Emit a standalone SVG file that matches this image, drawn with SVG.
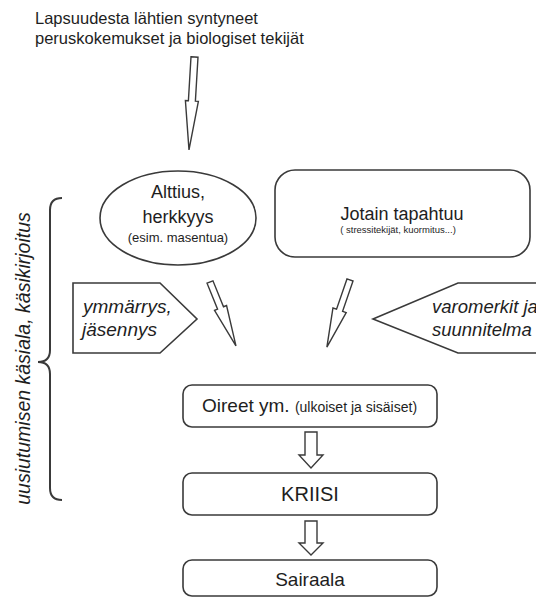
<svg xmlns="http://www.w3.org/2000/svg" width="536" height="598" viewBox="0 0 536 598">
<style>
.t{font-family:"Liberation Sans",Arial,sans-serif;fill:#1e1e1e}
.i{font-style:italic}
.box{fill:#fff;stroke:#3a3a3a;stroke-width:1.6}
.arr{fill:#fff;stroke:#3a3a3a;stroke-width:1.4;stroke-linejoin:miter}
.br{fill:none;stroke:#3a3a3a;stroke-width:2}
</style>
<rect width="536" height="598" fill="#fff"/>
<g id="title">
<text class="t" x="35" y="24" font-size="16.5">Lapsuudesta lähtien syntyneet</text>
<text class="t" x="35" y="44" font-size="16.5">peruskokemukset ja biologiset tekijät</text>
</g>
<g id="alttius">
<ellipse class="box" cx="178" cy="218" rx="78" ry="47"/>
<text class="t" x="178" y="198" font-size="18" text-anchor="middle">Alttius,</text>
<text class="t" x="178" y="223" font-size="18" text-anchor="middle">herkkyys</text>
<text class="t" x="178" y="242" font-size="13" text-anchor="middle">(esim. masentua)</text>
</g>
<g id="jotain">
<rect class="box" x="275" y="170" width="255" height="87" rx="20"/>
<text class="t" x="402" y="220" font-size="18" text-anchor="middle">Jotain tapahtuu</text>
<text class="t" x="398" y="233" font-size="9.5" text-anchor="middle">( stressitekijät, kuormitus...)</text>
</g>
<g id="brace">
<path class="br" d="M62,198 Q50,198 50,210 L50,350 Q50,362 38,362 Q50,362 50,374 L50,488 Q50,500 62,500"/>
<text class="t i" transform="translate(30,358.5) rotate(-90)" font-size="19.5" text-anchor="middle">uusiutumisen käsiala, käsikirjoitus</text>
</g>
<g id="ymmarrys">
<polygon class="box" points="73,283 160,283 197,319 160,353 73,353"/>
<text class="t i" x="83" y="313" font-size="19">ymmärrys,</text>
<text class="t i" x="82" y="336" font-size="19">jäsennys</text>
</g>
<g id="varomerkit">
<polygon class="box" points="373,319 458,283 545,283 545,353 458,353"/>
<text class="t i" x="432" y="313" font-size="18.5">varomerkit ja</text>
<text class="t i" x="432" y="336" font-size="18.5">suunnitelma</text>
</g>
<g id="oireet">
<rect class="box" x="183" y="385" width="254" height="42" rx="9"/>
<text class="t" x="202" y="412" font-size="19">Oireet ym. <tspan font-size="14">(ulkoiset ja sisäiset)</tspan></text>
</g>
<g id="kriisi">
<rect class="box" x="183" y="473" width="254" height="42" rx="9"/>
<text class="t" x="310" y="501" font-size="20" text-anchor="middle">KRIISI</text>
</g>
<g id="sairaala">
<rect class="box" x="183" y="560" width="254" height="36" rx="9"/>
<text class="t" x="310" y="586" font-size="19" text-anchor="middle">Sairaala</text>
</g>
<g id="connectors">
<polygon class="arr" transform="translate(194.5,57) rotate(3.4)" points="-3.5,0 3.5,0 3.5,44 6.5,44 0,93 -6.5,44 -3.5,44"/>
<polygon class="arr" transform="translate(210,282) rotate(-22.1)" points="-3.2,0 3.2,0 3.2,28 6.5,28 0,69 -6.5,28 -3.2,28"/>
<polygon class="arr" transform="translate(350,280) rotate(19)" points="-3.2,0 3.2,0 3.2,32 7,32 0,71 -7,32 -3.2,32"/>
<polygon class="arr" points="305,432 317,432 317,455 323,455 311,468 299,455 305,455"/>
<polygon class="arr" points="305,521 317,521 317,543 323,543 311,555 299,543 305,543"/>
</g>
</svg>
